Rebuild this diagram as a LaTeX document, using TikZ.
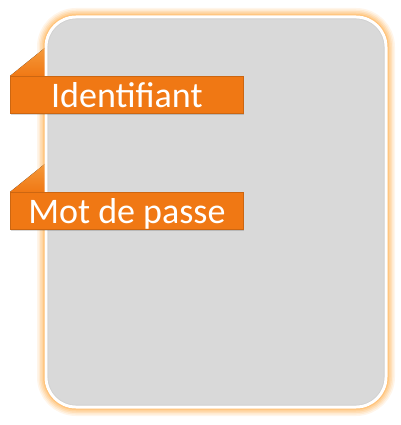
\documentclass[tikz,border=0pt]{standalone}
\usepackage{fontspec}
\setmainfont{Carlito}
\definecolor{bannerorange}{HTML}{F07814}
\definecolor{foldorange}{HTML}{F59A3C}
\definecolor{glow}{HTML}{FFB050}
\definecolor{panelgrey}{HTML}{D9D9D9}
\begin{document}
\begin{tikzpicture}[x=1pt,y=-1pt,
  banner/.style={fill=bannerorange, draw=bannerorange!85!black, line width=0.8pt,
    minimum width=233pt, minimum height=37pt, inner sep=0pt, text=white,
    text height=31pt, text depth=6pt,
    font=\fontsize{36}{40}\selectfont, anchor=north west},
  fold/.style={top color=foldorange, bottom color=bannerorange, draw=none},
  panel/.style={rounded corners=30pt}
]
\useasboundingbox (0,0) rectangle (400,425);
% glow
\foreach \w/\o in {18/0.12,15/0.15,12/0.2,9/0.25,6/0.35,4/0.45}{
  \draw[glow, line width=\w pt, opacity=\o, panel] (46,17) rectangle (386,407);
}
% fold triangles
\fill[fold] (10,76) -- (46,47) -- (46,76) -- cycle;
\fill[fold] (10,192) -- (46,163) -- (46,192) -- cycle;
% panel
\draw[white, line width=3pt, fill=panelgrey, panel] (46,17) rectangle (386,407);
\draw[black!18, line width=0.6pt, rounded corners=28pt] (48,19) rectangle (384,405);
% banners
\fill[black, opacity=0.15] (11,78) rectangle (244,115);
\node[banner] (ident) at (10,76) {Identifiant};
\fill[black, opacity=0.15] (11,194) rectangle (244,231);
\node[banner] (mdp) at (10,192) {Mot de passe};
\end{tikzpicture}
\end{document}
